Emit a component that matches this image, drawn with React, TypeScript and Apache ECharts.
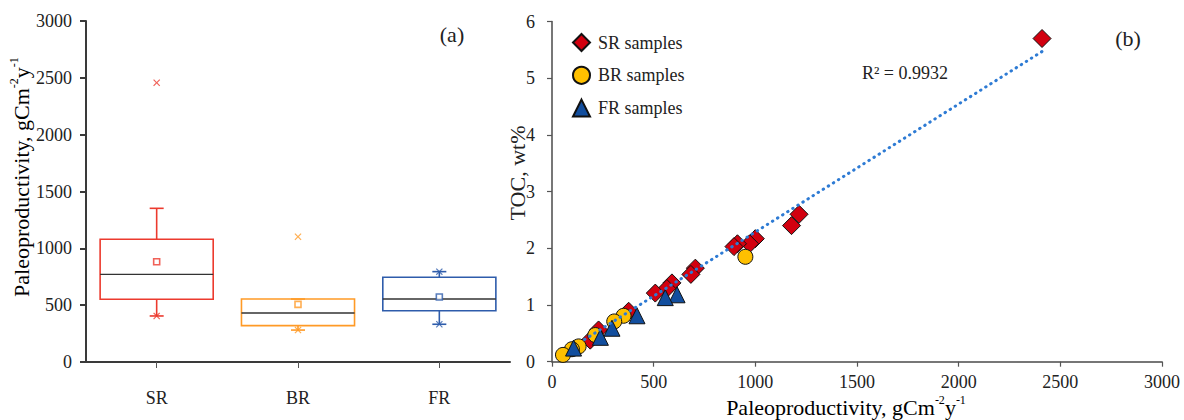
import React, { useEffect, useRef } from 'react';
import * as echarts from 'echarts';

// ---- Panel (a): box plot statistics ----
const groups = ['SR', 'BR', 'FR'];
const groupColors = ['#EC3A2E', '#FF9A26', '#2E5CAB'];
const whiskerLow = [405, 281, 332];
const quartile1 = [552, 320, 451];
const medians = [771, 431, 554];
const quartile3 = [1080, 554, 745];
const whiskerHigh = [1352, 554, 795];
const means = [882, 507, 572];
const extremeMarks = [[2457, 405], [1102, 281], [795, 332]];
const leftTicks = [0, 500, 1000, 1500, 2000, 2500, 3000];

// ---- Panel (b): TOC vs paleoproductivity ----
const srSamples = [
  [2410, 5.7], [1215, 2.6], [1178, 2.4], [1000, 2.17], [972, 2.08], [912, 2.08], [895, 2.03],
  [705, 1.65], [683, 1.54], [590, 1.39], [565, 1.29], [508, 1.21], [377, 0.89], [229, 0.56], [188, 0.38],
];
const brSamples = [[951, 1.85], [352, 0.81], [306, 0.71], [213, 0.47], [131, 0.27], [98, 0.22], [54, 0.12]];
const frSamples = [[615, 1.18], [557, 1.13], [418, 0.81], [295, 0.59], [238, 0.43], [106, 0.24]];
const trendLine = [[160, 0.39], [2410, 5.47]];
const rightXTicks = [0, 500, 1000, 1500, 2000, 2500, 3000];
const rightYTicks = [0, 1, 2, 3, 4, 5, 6];
const rSquared = 'R² = 0.9932';

const FONT = '"Liberation Serif", "Times New Roman", serif';
const TXT = '#222';

export default function App() {
  const ref = useRef<HTMLDivElement>(null);
  useEffect(() => {
    document.body.style.margin = '0';
    const chart = echarts.init(ref.current!, null, { renderer: 'svg' });

    const boxData = groups.map((_, i) => [i, whiskerLow[i], quartile1[i], medians[i], quartile3[i], whiskerHigh[i]]);
    const meanData = groups.map((g, i) => ({
      value: [i, means[i]],
      itemStyle: { color: '#fff', borderColor: groupColors[i], borderWidth: 1.6 },
    }));
    const markData: any[] = [];
    extremeMarks.forEach((arr, i) => arr.forEach((v) => markData.push({ value: [i, v], itemStyle: { color: groupColors[i] } })));

    const richTitle = {
      a: { fontSize: 22, fontFamily: FONT, lineHeight: 26, verticalAlign: 'middle', color: TXT },
      s: { fontSize: 12, fontFamily: FONT, lineHeight: 12, verticalAlign: 'top', color: TXT },
    };
    const unitTitle = '{a|Paleoproductivity, gCm}{s|-2}{a|y}{s|-1}';

    const axisLineL = { show: true, lineStyle: { color: '#3a3a3a', width: 2 } };
    const axisLineR = { show: true, lineStyle: { color: '#4a4a4a', width: 1.5 } };
    const labelStyle = { fontFamily: FONT, fontSize: 18, color: TXT, formatter: (v: any) => String(v) };

    chart.setOption({
      animation: false,
      grid: [
        { left: 86, right: 674, top: 21, bottom: 58 },
        { left: 552, right: 22, top: 21.5, bottom: 58.3 },
      ],
      xAxis: [
        {
          gridIndex: 0, type: 'category', data: groups, boundaryGap: true,
          axisLine: axisLineL,
          axisTick: { show: true, alignWithLabel: true, length: 6, lineStyle: { color: '#555', width: 1 } },
          axisLabel: { fontFamily: FONT, fontSize: 18, color: TXT, margin: 27 },
          splitLine: { show: false },
        },
        {
          gridIndex: 1, type: 'value', min: rightXTicks[0], max: rightXTicks[rightXTicks.length - 1], interval: 500,
          axisLine: axisLineR,
          axisTick: { show: true, length: 5, lineStyle: { color: '#555', width: 1.2 } },
          axisLabel: { ...labelStyle, margin: 11 },
          splitLine: { show: false },
        },
      ],
      yAxis: [
        {
          gridIndex: 0, type: 'value', min: leftTicks[0], max: leftTicks[leftTicks.length - 1], interval: 500,
          axisLine: axisLineL,
          axisTick: { show: true, length: 6, lineStyle: { color: '#3a3a3a', width: 2 } },
          axisLabel: { ...labelStyle, margin: 14 },
          splitLine: { show: false },
        },
        {
          gridIndex: 1, type: 'value', min: rightYTicks[0], max: rightYTicks[rightYTicks.length - 1], interval: 1,
          axisLine: axisLineR,
          axisTick: { show: true, length: 5, lineStyle: { color: '#555', width: 1.2 } },
          axisLabel: { ...labelStyle, margin: 17 },
          splitLine: { show: false },
        },
      ],
      legend: {
        data: ['SR samples', 'BR samples', 'FR samples'],
        orient: 'vertical', left: 567, top: 28,
        itemWidth: 17, itemHeight: 17, itemGap: 13.8,
        textStyle: { fontFamily: FONT, fontSize: 18, color: TXT, lineHeight: 17, padding: [0, 0, 0, 3] },
      },
      series: [
        {
          type: 'custom', xAxisIndex: 0, yAxisIndex: 0, data: boxData,
          encode: { x: 0, y: [1, 2, 3, 4, 5] },
          renderItem: (params: any, api: any) => {
            const i = api.value(0);
            const c = groupColors[i];
            const lo = api.coord([i, api.value(1)]);
            const q1 = api.coord([i, api.value(2)]);
            const md = api.coord([i, api.value(3)]);
            const q3 = api.coord([i, api.value(4)]);
            const hi = api.coord([i, api.value(5)]);
            const bw = api.size([1, 0])[0] * 0.8;
            const x = lo[0];
            const cap = 7;
            const s = { stroke: c, lineWidth: 1.6, fill: 'none' };
            return {
              type: 'group',
              children: [
                { type: 'line', shape: { x1: x, y1: q3[1], x2: x, y2: hi[1] }, style: s },
                { type: 'line', shape: { x1: x, y1: q1[1], x2: x, y2: lo[1] }, style: s },
                { type: 'line', shape: { x1: x - cap, y1: hi[1], x2: x + cap, y2: hi[1] }, style: s },
                { type: 'line', shape: { x1: x - cap, y1: lo[1], x2: x + cap, y2: lo[1] }, style: s },
                { type: 'rect', shape: { x: x - bw / 2, y: q3[1], width: bw, height: q1[1] - q3[1] }, style: s },
                { type: 'line', shape: { x1: x - bw / 2, y1: md[1], x2: x + bw / 2, y2: md[1] }, style: { stroke: '#333', lineWidth: 1.4 } },
              ],
            };
          },
          z: 2,
        },
        {
          type: 'scatter', xAxisIndex: 0, yAxisIndex: 0, data: meanData,
          symbol: 'rect', symbolSize: 6, z: 3,
        },
        {
          type: 'scatter', xAxisIndex: 0, yAxisIndex: 0, data: markData,
          symbol: 'path://M0,1.2L1.2,0L5,3.8L8.8,0L10,1.2L6.2,5L10,8.8L8.8,10L5,6.2L1.2,10L0,8.8L3.8,5Z',
          symbolSize: 7, z: 4,
        },
        {
          name: 'SR samples', type: 'scatter', xAxisIndex: 1, yAxisIndex: 1, data: srSamples,
          symbol: 'diamond', symbolSize: 18,
          itemStyle: { color: '#D2000F', borderColor: '#111', borderWidth: 1, opacity: 1 }, z: 3,
        },
        {
          name: 'BR samples', type: 'scatter', xAxisIndex: 1, yAxisIndex: 1, data: brSamples,
          symbol: 'circle', symbolSize: 15,
          itemStyle: { color: '#FFC000', borderColor: '#111', borderWidth: 1, opacity: 1 }, z: 4,
        },
        {
          name: 'FR samples', type: 'scatter', xAxisIndex: 1, yAxisIndex: 1, data: frSamples,
          symbol: 'triangle', symbolSize: 16,
          itemStyle: { color: '#124E9E', borderColor: '#111', borderWidth: 1, opacity: 1 }, z: 5,
        },
        {
          type: 'line', xAxisIndex: 1, yAxisIndex: 1, data: trendLine, showSymbol: false, symbol: 'none',
          lineStyle: { color: '#2E7BD4', width: 3, type: [0.5, 5.5], cap: 'round' }, z: 6,
        },
      ],
      graphic: [
        {
          type: 'text', x: 21, y: 177, rotation: Math.PI / 2,
          style: { text: unitTitle, rich: richTitle, align: 'center', verticalAlign: 'middle' },
        },
        {
          type: 'text', x: 846, y: 407,
          style: { text: unitTitle, rich: richTitle, align: 'center', verticalAlign: 'middle' },
        },
        {
          type: 'text', x: 517, y: 173, rotation: Math.PI / 2,
          style: { text: 'TOC, wt%', font: `22px ${FONT}`, fill: TXT, align: 'center', verticalAlign: 'middle' },
        },
        {
          type: 'text', x: 452, y: 34,
          style: { text: '(a)', font: `22px ${FONT}`, fill: TXT, align: 'center', verticalAlign: 'middle' },
        },
        {
          type: 'text', x: 1128, y: 38,
          style: { text: '(b)', font: `22px ${FONT}`, fill: TXT, align: 'center', verticalAlign: 'middle' },
        },
        {
          type: 'text', x: 905, y: 73,
          style: { text: rSquared, font: `18px ${FONT}`, fill: TXT, align: 'center', verticalAlign: 'middle' },
        },
      ],
    });
    return () => chart.dispose();
  }, []);
  return <div ref={ref} style={{ width: 1184, height: 420 }} />;
}
